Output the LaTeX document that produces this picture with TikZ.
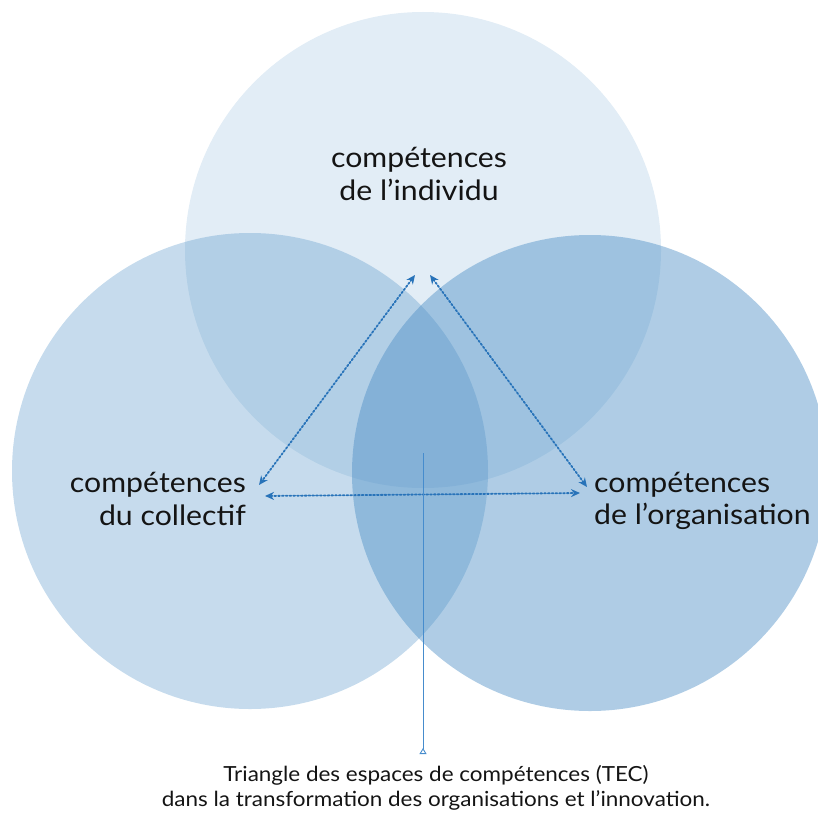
\documentclass[tikz,border=0pt]{standalone}
\usepackage{fontspec}
\setmainfont{Lato}[FakeStretch=1.08]
\usetikzlibrary{arrows.meta}
\definecolor{basecol}{RGB}{72,140,196}
\definecolor{arrowblue}{RGB}{40,115,185}
\definecolor{lineblue}{RGB}{70,140,205}
\definecolor{txt}{RGB}{20,20,20}
\tikzset{
  circ/.style={circle, draw=none, fill=basecol, minimum size=476pt, inner sep=0pt},
  lbl/.style={inner sep=0pt, text=txt, font=\fontsize{28}{32.5}\selectfont},
  captext/.style={inner sep=0pt, text=txt, font=\fontsize{20.8}{25}\selectfont, align=center},
  rel/.style={arrowblue, line width=1.8pt, dotted, {Stealth[length=9pt,width=8pt]}-{Stealth[length=9pt,width=8pt]}, line cap=round},
  pointer/.style={lineblue, line width=0.9pt, -{Triangle[open,reversed,length=6pt,width=7pt]}}
}
\begin{document}
\begin{tikzpicture}[x=1pt,y=-1pt]
\useasboundingbox (0,0) rectangle (818,813);
\node[circ, fill opacity=0.16] (cind) at (423,250) {};
\node[circ, fill opacity=0.31] (ccol) at (250,471) {};
\node[circ, fill opacity=0.44] (corg) at (590,473) {};

\node[lbl, align=center] (ind) at (419,174) {compétences\\de l’individu};
\node[lbl, align=right, anchor=east] (col) at (246,499) {compétences\\du collectif};
\node[lbl, align=left, anchor=west] (org) at (594,501) {compétences\\de l’organisation};

\coordinate (tl) at (415,275);
\coordinate (tr) at (430,275);
\coordinate (lu) at (259,485);
\coordinate (ld) at (265,496);
\coordinate (rd) at (580,493);
\coordinate (ru) at (587,487);

\draw[rel] (tl) -- (lu);
\draw[rel] (tr) -- (ru);
\draw[rel] (ld) -- (rd);

\coordinate (ptop) at (423,453);
\coordinate (pbot) at (423,754);
\draw[pointer] (ptop) -- (pbot);

\node[captext] (tec) at (436,788) {Triangle des espaces de compétences (TEC)\\dans la transformation des organisations et l’innovation.};
\end{tikzpicture}
\end{document}
